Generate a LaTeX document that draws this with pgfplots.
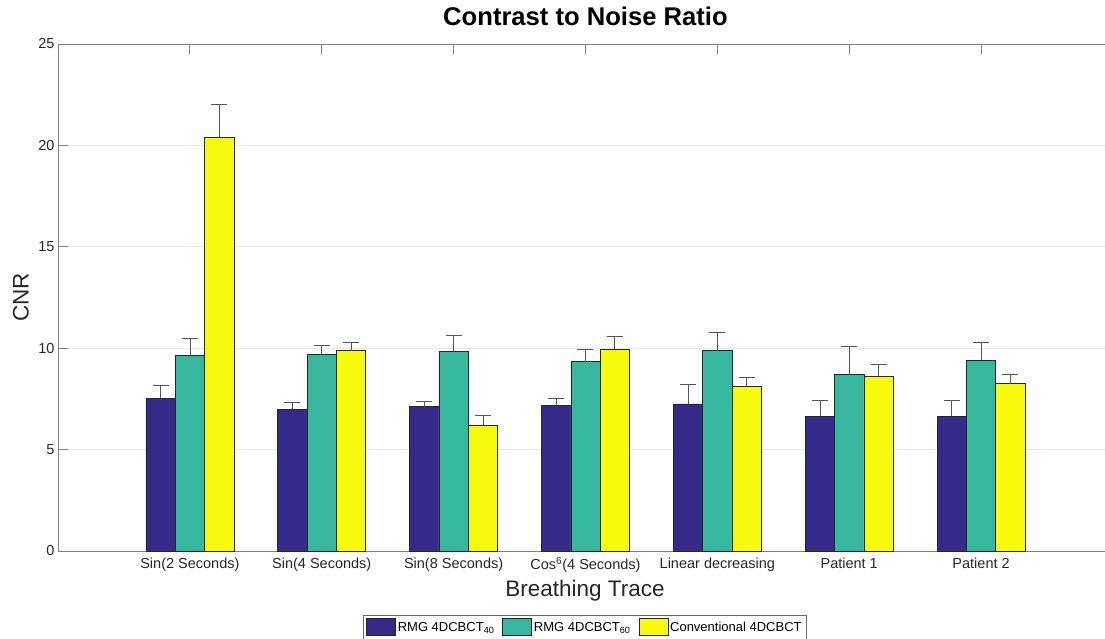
\documentclass[border=0pt]{standalone}
\usepackage{fontspec}
\setmainfont{Liberation Sans}
\usepackage{pgfplots}
\pgfplotsset{compat=1.18}
\usepackage{pgfplotstable}

\definecolor{parblue}{HTML}{352A87}
\definecolor{parteal}{HTML}{37B89E}
\definecolor{paryellow}{HTML}{F8FA0D}
\definecolor{errgray}{HTML}{555555}

% CNR means and upper error (x = category index)
\pgfplotstableread{
x y e
1 7.53 0.64
2 7.00 0.31
3 7.12 0.26
4 7.17 0.37
5 7.25 0.97
6 6.64 0.79
7 6.64 0.79
}\rmgforty

\pgfplotstableread{
x y e
1 9.66 0.83
2 9.70 0.46
3 9.85 0.77
4 9.34 0.59
5 9.88 0.89
6 8.71 1.36
7 9.40 0.89
}\rmgsixty

\pgfplotstableread{
x y e
1 20.41 1.63
2 9.88 0.39
3 6.20 0.49
4 9.94 0.65
5 8.12 0.44
6 8.61 0.61
7 8.25 0.46
}\conventional

\pgfplotsset{
  cnrbar/.style={
    ybar, bar width=0.2222, bar shift=#1,
    draw=black!85, line width=0.6pt,
    legend image code/.code={\draw[##1] (0pt,-8pt) rectangle (29pt,9pt);},
  },
  cnrerr/.style={
    forget plot, draw=none, mark=none,
    error bars/.cd, y dir=plus, y explicit,
    error mark=|,
    error bar style={errgray, line width=0.7pt, solid},
    error mark options={errgray, line width=0.7pt, mark size=8pt, solid},
  },
}

\begin{document}
\begin{tikzpicture}
\begin{axis}[
  scale only axis, width=1055pt, height=507pt,
  xmin=0, xmax=8, ymin=0, ymax=25,
  axis x line*=box, axis y line*=left,
  xtick={1,2,3,4,5,6,7},
  xticklabels={Sin(2 Seconds), Sin(4 Seconds), Sin(8 Seconds),
    Cos\textsuperscript{6}(4 Seconds), Linear decreasing, Patient 1, Patient 2},
  ytick={0,5,10,15,20,25},
  xtick pos=right, xticklabel pos=left,
  ytick pos=left,
  tick align=inside, major tick length=10pt,
  tick style={black!50, line width=0.8pt},
  axis line style={black!50, line width=0.8pt},
  ymajorgrids, grid style={black!9, line width=0.8pt},
  /pgf/number format/assume math mode=true,
  tick label style={font=\fontsize{14.5}{17}\selectfont, text=black!85},
  xticklabel style={yshift=-3pt},
  xlabel={Breathing Trace},
  ylabel={CNR},
  label style={font=\fontsize{22.5}{26}\selectfont, text=black!85},
  xlabel style={at={(axis description cs:0.4995,-0.0907)}, anchor=base},
  ylabel style={at={(axis description cs:-0.0351,0.5)}, anchor=center, rotate=0},
  title={Contrast to Noise Ratio},
  title style={font=\bfseries\fontsize{25.6}{30}\selectfont,
    at={(axis description cs:0.5,1.0237)}, anchor=base},
  legend columns=3,
  legend style={at={(0.4995,-0.1262)}, anchor=north,
    draw=black!60, line width=0.6pt,
    font=\fontsize{13}{15}\selectfont,
    inner xsep=3pt, inner ysep=3pt,
    /tikz/every even column/.append style={column sep=6pt}},
  legend cell align=left,
]
\coordinate (boxsw) at (rel axis cs:0,0);
% bars
\addplot[cnrbar=-0.2222, fill=parblue]
  table[x=x, y=y] {\rmgforty};
\addplot[cnrbar=0, fill=parteal]
  table[x=x, y=y] {\rmgsixty};
\addplot[cnrbar=0.2222, fill=paryellow]
  table[x=x, y=y] {\conventional};
\legend{RMG 4DCBCT\textsubscript{40}, RMG 4DCBCT\textsubscript{60}, Conventional 4DCBCT}
% upper error bars, one at the centre of each bar
\addplot[cnrerr] table[x expr=\thisrow{x}-0.2222, y=y, y error=e] {\rmgforty};
\addplot[cnrerr] table[x=x, y=y, y error=e] {\rmgsixty};
\addplot[cnrerr] table[x expr=\thisrow{x}+0.2222, y=y, y error=e] {\conventional};
\end{axis}
\pgfresetboundingbox
\path[use as bounding box] ([xshift=-58pt,yshift=-87pt]boxsw)
  rectangle ([xshift=1047pt,yshift=551pt]boxsw);
\end{tikzpicture}
\end{document}
